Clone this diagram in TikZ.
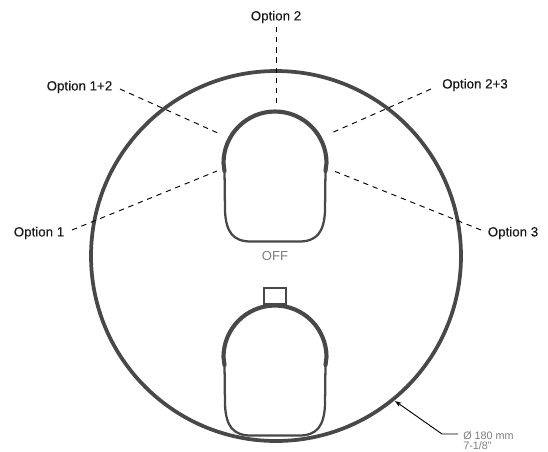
\documentclass[tikz,border=0pt]{standalone}
\usepackage{fontspec}
\setmainfont{Liberation Sans}
\usetikzlibrary{arrows.meta}
\definecolor{ink}{RGB}{72,72,74}
\definecolor{soft}{RGB}{125,125,127}
\tikzset{
  optlabel/.style={font=\addfontfeature{FakeBold=0.25}\fontsize{10pt}{12pt}\selectfont,text=black!90,inner sep=0pt},
  graylabel/.style={font=\fontsize{8.1pt}{9pt}\selectfont,text=soft,inner sep=0pt,anchor=west},
  offlabel/.style={font=\fontsize{9.8pt}{11pt}\selectfont,text=soft,inner sep=0pt},
  dashline/.style={draw=black,line width=0.7pt,dash pattern=on 4pt off 3.6pt},
  ring/.style={draw=ink,line width=2.8pt},
  thickarc/.style={draw=ink,line width=3.1pt,line cap=round},
  thinbody/.style={draw=ink,line width=1.7pt},
  leader/.style={draw=black,line width=0.7pt},
  pics/knob/.style={code={
    \path[thinbody] (-50.5,58) -- (-50,100)
      .. controls (-49,121) and (-42,130.5) .. (-24,130.5)
      -- (24,130.5) .. controls (42,130.5) and (49,121) .. (50,100) -- (50.5,58);
    \path[thickarc] (-50.5,60) -- (-51.5,52) arc[start angle=180,end angle=360,radius=51.5] -- (50.5,60);
  }}
}
\begin{document}
\begin{tikzpicture}[x=0.75pt,y=-0.75pt]
\useasboundingbox (0,0) rectangle (548,451);
\node[inner sep=0pt,minimum size=0pt] (centre) at (276,256) {};
\path[ring] (centre) circle (185);
\pic at (275,111) {knob};
\node[draw=ink,line width=1.4pt,minimum width=16pt,minimum height=12pt,inner sep=0pt,anchor=south] (tab) at (275,305) {};
\pic at (275,305) {knob};
\node[optlabel] (o2) at (276,17) {Option 2};
\node[optlabel] (o12) at (79.5,87) {Option 1+2};
\node[optlabel] (o23) at (475,85) {Option 2+3};
\node[optlabel] (o1) at (39,233) {Option 1};
\node[optlabel] (o3) at (513,233) {Option 3};
\node[offlabel] (off) at (275,256) {OFF};
\coordinate (a2) at (276,103);
\coordinate (a12) at (220,134);
\coordinate (a23) at (329,134);
\coordinate (a1) at (217,171);
\coordinate (a3) at (334,171);
\coordinate (b2) at (276,27);
\coordinate (b12) at (120,89);
\coordinate (b23) at (431,89);
\coordinate (b1) at (72,230);
\coordinate (b3) at (481,230);
\draw[dashline] (b2) -- (a2);
\draw[dashline] (b12) -- (a12);
\draw[dashline] (b23) -- (a23);
\draw[dashline] (b1) -- (a1);
\draw[dashline] (b3) -- (a3);
\coordinate (tip) at (395,401);
\coordinate (bend) at (442,434);
\coordinate (stub) at (458,434);
\node[graylabel] (dim) at (463,436) {Ø 180 mm};
\node[graylabel] (inch) at (463,445.5) {7-1/8"};
\draw[leader,{Stealth[length=5pt,width=3.5pt]}-] (tip) -- (bend) -- (stub);
\end{tikzpicture}
\end{document}
